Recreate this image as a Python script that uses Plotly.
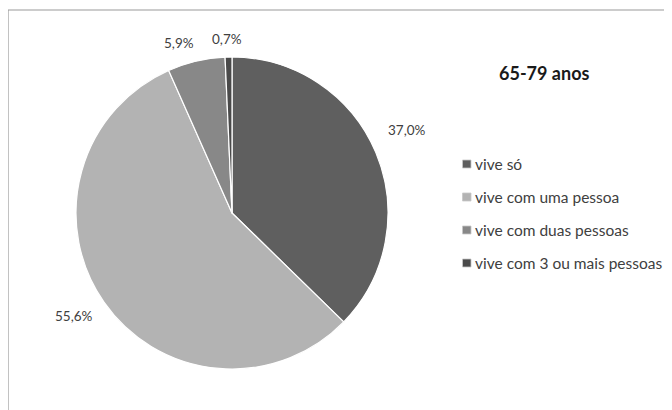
import plotly.graph_objects as go

categories = ["vive só", "vive com uma pessoa", "vive com duas pessoas", "vive com 3 ou mais pessoas"]
values = [37.0, 55.6, 5.9, 0.7]
colors = ["#5f5f5f", "#b3b3b3", "#888888", "#4a4a4a"]
title_text = "65-79 anos"

W, H = 672, 410
OFF = 8  # page body margin

def px(x):
    return (x - OFF) / W

def py(y):
    return 1 - (y - OFF) / H

cx, cy, r = 232, 213, 156
FONT = "Lato"

fig = go.Figure()
fig.add_trace(go.Pie(
    labels=categories,
    values=values,
    sort=False,
    direction="clockwise",
    rotation=0,
    marker=dict(colors=colors, line=dict(color="white", width=1.2)),
    textinfo="none",
    hoverinfo="label+percent",
    showlegend=False,
    domain=dict(x=[px(cx - r), px(cx + r)], y=[py(cy + r), py(cy - r)]),
))

# data label positions (layout)
label_pos = [(407, 130), (74, 316), (179, 43), (227, 39)]
annotations = []
for v, (x, y) in zip(values, label_pos):
    annotations.append(dict(
        x=px(x), y=py(y), xref="paper", yref="paper",
        text=f"{v:.1f}".replace(".", ",") + "%",
        showarrow=False, font=dict(family=FONT, size=13.5, color="#404040"),
        xanchor="center", yanchor="middle",
    ))

annotations.append(dict(
    x=px(544), y=py(73), xref="paper", yref="paper", text=f"<b>{title_text}</b>",
    showarrow=False, font=dict(family=FONT, size=18, color="#1a1a1a"),
    xanchor="center", yanchor="middle",
))

shapes = [dict(type="rect", xref="paper", yref="paper",
               x0=px(8), x1=px(700), y0=py(440), y1=py(10),
               line=dict(color="#9a9a9a", width=1.2), fillcolor="rgba(0,0,0,0)")]

legend_y = [164, 197, 230, 263]
for cat, col, ly in zip(categories, colors, legend_y):
    shapes.append(dict(type="rect", xref="paper", yref="paper",
                       x0=px(462.5), x1=px(471), y0=py(ly + 4), y1=py(ly - 4),
                       fillcolor=col, line=dict(color="#c8c8c8", width=0.8)))
    annotations.append(dict(
        x=px(473), y=py(ly), xref="paper", yref="paper", text=cat,
        showarrow=False, font=dict(family=FONT, size=15.5, color="#404040"),
        xanchor="left", yanchor="middle",
    ))

fig.update_layout(
    width=W, height=H,
    margin=dict(l=0, r=0, t=0, b=0),
    paper_bgcolor="white", plot_bgcolor="white",
    annotations=annotations, shapes=shapes,
)

fig.write_html("out.html")
